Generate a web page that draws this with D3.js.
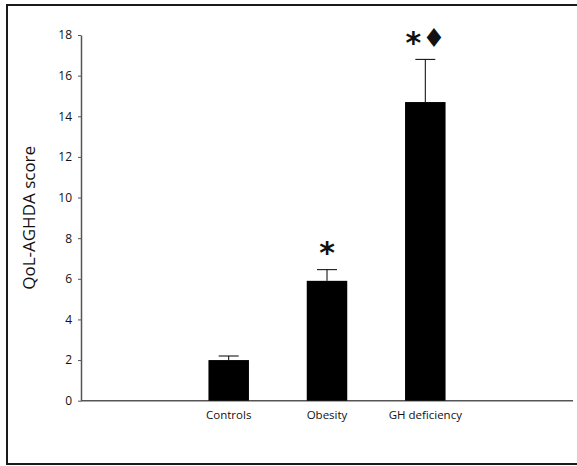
<!DOCTYPE html>
<html>
<head>
<meta charset="utf-8">
<script src="https://cdn.jsdelivr.net/npm/d3@7"></script>
<style>
  html, body { margin: 0; padding: 0; background: #fff; }
  svg { display: block; }
  text { font-family: "Open Sans", "DejaVu Sans", sans-serif; fill: #111; }
</style>
</head>
<body>
<script>
// QoL-AGHDA score by group: mean with upper error bar
const groups = ["Controls", "Obesity", "GH deficiency"];
const means = [2.0, 5.9, 14.7];
const errors = [0.2, 0.55, 2.1];
const stars = [false, true, true];      // significant vs controls
const diamonds = [false, false, true];  // significant vs obesity
const yTicks = [0, 2, 4, 6, 8, 10, 12, 14, 16, 18];

const W = 577, H = 466;
const svg = d3.select("body").append("svg").attr("width", W).attr("height", H);

// outer frame
svg.append("rect")
  .attr("x", 7).attr("y", 5).attr("width", 580).attr("height", 459)
  .attr("fill", "none").attr("stroke", "#1a1a1a").attr("stroke-width", 2);

const x = d3.scaleBand().domain(groups).range([81, 573])
  .paddingInner(0.588).paddingOuter(1.2965);
const y = d3.scaleLinear().domain([0, 18]).range([400.7, 35]);
const cx = d => x(d) + x.bandwidth() / 2;

// y axis
const gy = svg.append("g").attr("transform", "translate(81,0)")
  .call(d3.axisLeft(y).tickValues(yTicks).tickSize(3).tickPadding(6).tickSizeOuter(0));
gy.select(".domain").attr("stroke", "#555").attr("stroke-width", 1.5);
gy.selectAll(".tick line").attr("stroke", "#555");
gy.selectAll(".tick text").style("font-size", "12px").attr("fill", "#111");

// x axis
const gx = svg.append("g").attr("transform", `translate(0,${y(0)})`)
  .call(d3.axisBottom(x).tickSize(0).tickPadding(10).tickSizeOuter(0));
gx.select(".domain").attr("stroke", "#555").attr("stroke-width", 1.5)
  .attr("d", `M81,0H573`);
gx.selectAll(".tick text").style("font-size", "11.5px").attr("fill", "#111");

// bars
svg.selectAll("rect.bar").data(groups).join("rect").attr("class", "bar")
  .attr("x", d => x(d)).attr("width", x.bandwidth())
  .attr("y", (d, i) => y(means[i])).attr("height", (d, i) => y(0) - y(means[i]))
  .attr("fill", "#000");

// upper error bars
const eb = svg.selectAll("g.err").data(groups).join("g").attr("class", "err");
eb.append("line")
  .attr("x1", cx).attr("x2", cx)
  .attr("y1", (d, i) => y(means[i])).attr("y2", (d, i) => y(means[i] + errors[i]))
  .attr("stroke", "#000").attr("stroke-width", 1);
eb.append("line")
  .attr("x1", d => cx(d) - 10).attr("x2", d => cx(d) + 10)
  .attr("y1", (d, i) => y(means[i] + errors[i])).attr("y2", (d, i) => y(means[i] + errors[i]))
  .attr("stroke", "#000").attr("stroke-width", 1);

// significance markers, centred about 23px above each error cap
const ann = svg.selectAll("g.ann").data(groups).join("g").attr("class", "ann")
  .attr("transform", (d, i) => `translate(${cx(d)},${y(means[i] + errors[i]) - 23})`);
ann.each(function (d, i) {
  const g = d3.select(this);
  const both = stars[i] && diamonds[i];
  if (stars[i]) {
    g.append("text").text("*").attr("text-anchor", "middle")
      .attr("x", both ? -12 : 0).attr("y", 16.5)
      .style("font-family", "DejaVu Sans").style("font-weight", "bold")
      .style("font-size", "30px").attr("fill", "#000");
  }
  if (diamonds[i]) {
    g.append("text").text("\u2666").attr("text-anchor", "middle")
      .attr("x", both ? 8.5 : 0).attr("y", 11)
      .style("font-family", "DejaVu Sans").style("font-size", "26px").attr("fill", "#000");
  }
});

// y axis title
svg.append("text")
  .attr("transform", `translate(35,${(y(0) + y(18)) / 2}) rotate(-90)`)
  .attr("text-anchor", "middle")
  .style("font-size", "17px")
  .text("QoL-AGHDA score");
</script>
</body>
</html>
